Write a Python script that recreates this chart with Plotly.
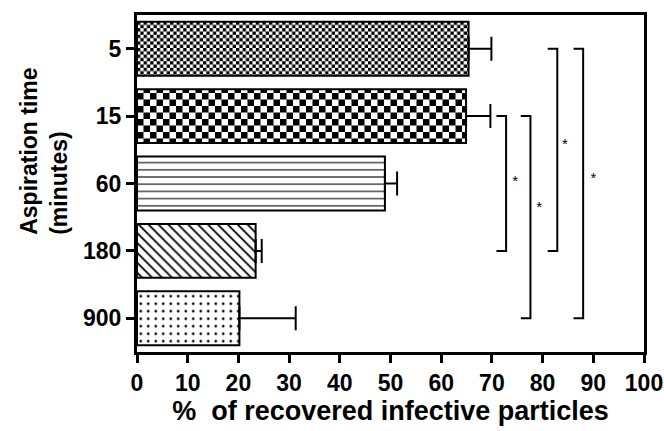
import plotly.graph_objects as go

categories = ["5", "15", "60", "180", "900"]
values = [65.4, 64.9, 48.9, 23.4, 20.2]
err_upper = [4.5, 4.8, 2.4, 1.2, 11.1]
patterns = ["x", "+", "-", "\\", "."]
pattern_sizes = [6, 13, 7.2, 7, 7.5]
pattern_solidity = [0.5, 0.5, 0.15, 0.25, 0.1]
bar_uids = ["chkfine", "chkcoarse", "hlines", "diag", "dots"]
checker_squares = {"chkfine": 3.3, "chkcoarse": 6.5}

# significance comparisons (index of category pairs) and bracket x positions
comparisons = [(1, 3), (1, 4), (0, 3), (0, 4)]
bracket_x = [72.8, 77.6, 82.9, 88.0]
bracket_arm = 1.9
star_x = [74.6, 79.3, 84.4, 90.0]
star_y = [1.98, 2.37, 1.43, 1.93]

pos = list(range(len(categories)))

fig = go.Figure()
for i, c in enumerate(categories):
    fig.add_trace(go.Bar(
        y=[pos[i]], x=[values[i]], orientation="h", width=0.8, uid=bar_uids[i],
        marker=dict(color="white", line=dict(color="black", width=2),
                    pattern=dict(shape=patterns[i], size=pattern_sizes[i],
                                 solidity=pattern_solidity[i], fgcolor="black",
                                 bgcolor="white", fillmode="replace")),
        error_x=dict(type="data", symmetric=False, array=[err_upper[i]],
                     arrayminus=[0], color="black", thickness=2, width=12),
        showlegend=False, hoverinfo="skip"))

for (a, b), bx in zip(comparisons, bracket_x):
    fig.add_trace(go.Scatter(
        x=[bx - bracket_arm, bx, bx, bx - bracket_arm],
        y=[a, a, b, b], mode="lines",
        line=dict(color="black", width=2), showlegend=False, hoverinfo="skip"))

fig.add_trace(go.Scatter(x=star_x, y=star_y, mode="text", text=["*"] * 4,
                         textfont=dict(size=15, color="black", family="Liberation Sans"),
                         showlegend=False, hoverinfo="skip"))

font_main = "Liberation Sans"
fig.update_layout(
    width=664, height=431,
    margin=dict(l=137, r=20, t=15, b=79),
    plot_bgcolor="white", paper_bgcolor="white",
    xaxis=dict(range=[0, 100], tickvals=list(range(0, 101, 10)),
               showgrid=False, zeroline=False, automargin=False,
               showline=True, linecolor="black", linewidth=3, mirror=True,
               ticks="outside", ticklen=8, tickwidth=2.5, tickcolor="black",
               tickfont=dict(family=font_main, size=23, color="black", weight="bold"),
               title=dict(text="%  of recovered infective particles",
                          font=dict(family=font_main, size=27, color="black", weight="bold"),
                          standoff=6)),
    yaxis=dict(range=[4.5, -0.5], tickvals=pos, ticktext=categories,
               showgrid=False, zeroline=False, automargin=False,
               showline=True, linecolor="black", linewidth=3, mirror=True,
               ticks="outside", ticklen=8, tickwidth=2.5, tickcolor="black",
               tickfont=dict(family=font_main, size=23, color="black", weight="bold")),
    annotations=[dict(text="Aspiration time<br>(minutes)", xref="paper", yref="paper",
                      x=0, y=0.594, xanchor="center", yanchor="middle", xshift=-93,
                      textangle=-90, showarrow=False, align="left",
                      font=dict(family=font_main, size=23,
                                color="black", weight="bold"))],
)

post_js = """
(function(){
  var gd = document.getElementById('{plot_id}');
  var sq = %s;
  function fix(){
    var pats = gd.querySelectorAll('pattern');
    pats.forEach(function(p){
      Object.keys(sq).forEach(function(k){
        if(p.id.indexOf(k) >= 0 && !p.getAttribute('data-chk')){
          var s = sq[k];
          var ns = 'http://www.w3.org/2000/svg';
          while(p.firstChild) p.removeChild(p.firstChild);
          p.setAttribute('width', 2*s); p.setAttribute('height', 2*s);
          p.removeAttribute('patternTransform');
          var r = document.createElementNS(ns, 'rect');
          r.setAttribute('width', 2*s); r.setAttribute('height', 2*s);
          r.setAttribute('fill', 'white'); p.appendChild(r);
          var path = document.createElementNS(ns, 'path');
          path.setAttribute('d', 'M0,0h'+s+'v'+s+'h-'+s+'zM'+s+','+s+'h'+s+'v'+s+'h-'+s+'z');
          path.setAttribute('fill', 'black'); p.appendChild(path);
          p.setAttribute('data-chk', '1');
        }
      });
    });
  }
  fix();
  gd.on('plotly_afterplot', fix);
})();
""" % str(checker_squares).replace("'", '"')

fig.write_html("out.html", post_script=post_js)
